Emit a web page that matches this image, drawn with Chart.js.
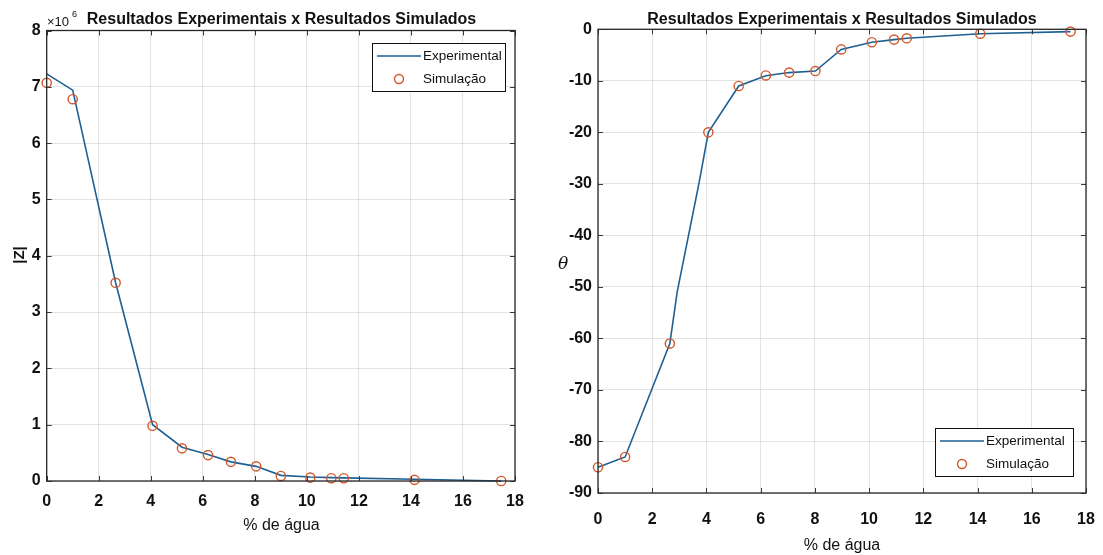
<!DOCTYPE html>
<html><head><meta charset="utf-8">
<script src="https://cdn.jsdelivr.net/npm/chart.js@4.4.1/dist/chart.umd.min.js"></script>
<style>
html,body{margin:0;padding:0;background:#fff;}
body{width:1103px;height:555px;overflow:hidden;position:relative;}
#w1{position:absolute;left:0;top:0;width:550px;height:555px;}
#w2{position:absolute;left:550px;top:0;width:553px;height:555px;}
</style></head><body>
<div id="w1"><canvas id="c1" width="550" height="555"></canvas></div>
<div id="w2"><canvas id="c2" width="553" height="555"></canvas></div>
<script>
// ---------- data ----------
const titleText = 'Resultados Experimentais x Resultados Simulados';
const xLabel = '% de água';
const legendLabels = ['Experimental', 'Simulação'];
const xTickValues = [0, 2, 4, 6, 8, 10, 12, 14, 16, 18];

// |Z| (x10^6)
const zExpX = [0, 1, 2.65, 4.07, 5.2, 6.2, 7.08, 8.05, 9.0, 10.13, 10.94, 11.42, 14.14, 17.47];
const zExpY = [7.23, 6.94, 3.52, 1.0, 0.6, 0.47, 0.34, 0.26, 0.1, 0.07, 0.06, 0.055, 0.03, 0.0];
const zSimX = [0, 1, 2.65, 4.07, 5.2, 6.2, 7.08, 8.05, 9.0, 10.13, 10.94, 11.42, 14.14, 17.47];
const zSimY = [7.07, 6.78, 3.52, 0.98, 0.58, 0.46, 0.34, 0.26, 0.09, 0.06, 0.05, 0.05, 0.02, 0.0];

// theta
const tExpX = [0, 1, 2.65, 2.92, 3.72, 4.07, 5.19, 6.19, 7.05, 8.02, 8.97, 10.1, 10.92, 11.39, 14.1, 17.43];
const tExpY = [-85, -83, -61, -51, -30, -20, -11, -9, -8.4, -8.1, -3.9, -2.5, -2.0, -1.75, -0.85, -0.45];
const tSimX = [0, 1, 2.65, 4.07, 5.19, 6.19, 7.05, 8.02, 8.97, 10.1, 10.92, 11.39, 14.1, 17.43];
const tSimY = [-85, -83, -61, -20, -11, -8.96, -8.4, -8.1, -3.9, -2.5, -2.0, -1.75, -0.85, -0.45];

const zTicks = [0, 1, 2, 3, 4, 5, 6, 7, 8];
const tTicks = [-90, -80, -70, -60, -50, -40, -30, -20, -10, 0];

// ---------- style ----------
const LINE = 'rgb(30,96,148)';
const MARK = 'rgb(208,88,44)';
const FAM = "'Liberation Sans', Arial, sans-serif";

function pts(xs, ys) { return xs.map((x, i) => ({ x: x, y: ys[i] })); }

const framePlugin = {
  id: 'frame',
  afterDraw(chart, args, o) {
    const ctx = chart.ctx, a = chart.chartArea;
    const xs = chart.scales.x, ys = chart.scales.y;
    ctx.save();
    // inward ticks
    ctx.strokeStyle = '#3a3a3a'; ctx.lineWidth = 1;
    const tl = 5;
    ctx.beginPath();
    o.xt.forEach(v => {
      const px = Math.round(xs.getPixelForValue(v)) + 0.5;
      ctx.moveTo(px, a.bottom); ctx.lineTo(px, a.bottom - tl);
      ctx.moveTo(px, a.top); ctx.lineTo(px, a.top + tl);
    });
    o.yt.forEach(v => {
      const py = Math.round(ys.getPixelForValue(v)) + 0.5;
      ctx.moveTo(a.left, py); ctx.lineTo(a.left + tl, py);
      ctx.moveTo(a.right, py); ctx.lineTo(a.right - tl, py);
    });
    ctx.stroke();
    // box
    ctx.strokeStyle = '#262626'; ctx.lineWidth = 1.3;
    ctx.strokeRect(a.left, a.top, a.right - a.left, a.bottom - a.top);
    // title
    ctx.fillStyle = '#111';
    ctx.font = 'bold 16px ' + FAM;
    ctx.textAlign = 'center'; ctx.textBaseline = 'alphabetic';
    ctx.fillText(titleText, o.titleX, 24);
    // x label
    ctx.font = '16px ' + FAM;
    ctx.fillText(xLabel, o.titleX, o.xlabY);
    // y label
    ctx.save();
    ctx.translate(o.ylab.x, o.ylab.y);
    if (o.ylab.rot) ctx.rotate(-Math.PI / 2);
    ctx.font = o.ylab.font;
    ctx.textBaseline = 'middle';
    ctx.fillText(o.ylab.text, 0, 0);
    ctx.restore();
    // exponent
    if (o.exp) {
      ctx.textAlign = 'left';
      ctx.font = '13px ' + FAM;
      ctx.fillText('\u00d710', 47, 26);
      ctx.font = '9px ' + FAM;
      ctx.fillText('6', 72, 17);
    }
    // legend
    const L = o.leg;
    ctx.fillStyle = '#fff';
    ctx.fillRect(L.x, L.y, L.w, L.h);
    ctx.strokeStyle = '#111'; ctx.lineWidth = 1;
    ctx.strokeRect(L.x + 0.5, L.y + 0.5, L.w, L.h);
    const ds0 = chart.data.datasets[0], ds1 = chart.data.datasets[1];
    ctx.strokeStyle = ds0.borderColor; ctx.lineWidth = 1.6;
    ctx.beginPath(); ctx.moveTo(L.x + 5, L.y + 13); ctx.lineTo(L.x + 49, L.y + 13); ctx.stroke();
    ctx.strokeStyle = ds1.borderColor; ctx.lineWidth = 1.4;
    ctx.beginPath(); ctx.arc(L.x + 27, L.y + 36, 4.5, 0, Math.PI * 2); ctx.stroke();
    ctx.fillStyle = '#111'; ctx.font = '13.5px ' + FAM; ctx.textAlign = 'left'; ctx.textBaseline = 'middle';
    ctx.fillText(legendLabels[0], L.x + 51, L.y + 13);
    ctx.fillText(legendLabels[1], L.x + 51, L.y + 36);
    ctx.restore();
  }
};

function makeChart(id, cfg) {
  return new Chart(document.getElementById(id), {
    type: 'scatter',
    data: {
      datasets: [
        { label: legendLabels[0], data: pts(cfg.ex, cfg.ey), showLine: true, borderColor: LINE, backgroundColor: LINE,
          borderWidth: 1.6, pointRadius: 0, tension: 0, order: 2, clip: false },
        { label: legendLabels[1], data: pts(cfg.sx, cfg.sy), showLine: false, borderColor: MARK, backgroundColor: 'rgba(0,0,0,0)',
          pointRadius: 4.6, pointBorderWidth: 1.4, pointStyle: 'circle', order: 1, clip: false }
      ]
    },
    options: {
      responsive: false, animation: false, devicePixelRatio: 1,
      layout: { padding: cfg.pad },
      plugins: { legend: { display: false }, tooltip: { enabled: false }, title: { display: false }, frame: cfg.frame },
      scales: {
        x: {
          type: 'linear', min: 0, max: 18,
          afterBuildTicks: s => { s.ticks = xTickValues.map(v => ({ value: v })); },
          afterFit: s => { s.height = cfg.xh; s.paddingLeft = 0; s.paddingRight = 0; },
          grid: { color: 'rgba(0,0,0,0.11)', lineWidth: 1, drawTicks: false },
          border: { display: false },
          ticks: { color: '#111', font: { family: FAM, size: 16, weight: 'bold' }, padding: cfg.xpad, maxRotation: 0, autoSkip: false }
        },
        y: {
          type: 'linear', min: cfg.ymin, max: cfg.ymax,
          afterBuildTicks: s => { s.ticks = cfg.yt.map(v => ({ value: v })); },
          afterFit: s => { s.width = cfg.yw; s.paddingTop = 0; s.paddingBottom = 0; },
          grid: { color: 'rgba(0,0,0,0.11)', lineWidth: 1, drawTicks: false },
          border: { display: false },
          ticks: { color: '#111', font: { family: FAM, size: 16, weight: 'bold' }, padding: 6, autoSkip: false }
        }
      }
    },
    plugins: [framePlugin]
  });
}

makeChart('c1', {
  ex: zExpX, ey: zExpY, sx: zSimX, sy: zSimY,
  ymin: 0, ymax: 8, yt: zTicks,
  pad: { left: 0, top: 30.5, right: 35, bottom: 0 }, yw: 46.7, xh: 74, xpad: 11,
  frame: {
    xt: xTickValues, yt: zTicks, titleX: 281.5, xlabY: 530, exp: true,
    ylab: { x: 20, y: 255, rot: true, text: '|Z|', font: 'bold 15px ' + FAM },
    leg: { x: 372, y: 43, w: 133, h: 48 }
  }
});

makeChart('c2', {
  ex: tExpX, ey: tExpY, sx: tSimX, sy: tSimY,
  ymin: -90, ymax: 0, yt: tTicks,
  pad: { left: 0, top: 29.3, right: 17, bottom: 0 }, yw: 48, xh: 62, xpad: 17,
  frame: {
    xt: xTickValues, yt: tTicks, titleX: 292, xlabY: 550, exp: false,
    ylab: { x: 13, y: 265, rot: false, text: '\u03b8', font: 'italic 17px "DejaVu Serif", "Liberation Serif", serif' },
    leg: { x: 385, y: 428, w: 138, h: 48 }
  }
});
</script>
</body></html>
